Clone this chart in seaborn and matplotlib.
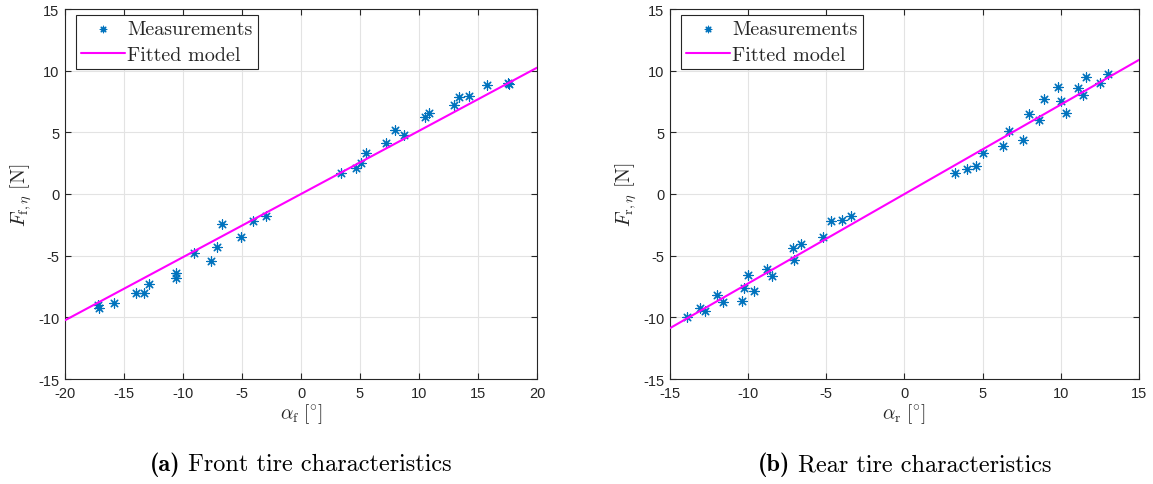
import numpy as np
import pandas as pd
import matplotlib
matplotlib.use("Agg")
import matplotlib.pyplot as plt
import seaborn as sns

# Front tire: slip angle [deg] and lateral force [N]
front_alpha = [-17.2, -17.1, -15.85, -13.98, -13.33, -12.91, -10.6, -10.6, -9.09, -7.63,
               -7.15, -6.69, -5.05, -4.07, -3.0,
               3.36, 4.63, 5.08, 5.53, 7.2, 7.99, 8.73, 10.53, 10.87, 12.94,
               13.36, 14.21, 15.79, 17.54, 17.65]
front_force = [-9.0, -9.25, -8.81, -8.02, -8.02, -7.26, -6.4, -6.8, -4.8, -5.47,
               -4.33, -2.41, -3.52, -2.2, -1.82,
               1.73, 2.11, 2.49, 3.36, 4.15, 5.15, 4.8, 6.28, 6.56, 7.24,
               7.86, 7.94, 8.8, 9.02, 8.89]

# Rear tire: slip angle [deg] and lateral force [N]
rear_alpha = [-13.89, -13.08, -12.74, -12.01, -11.61, -10.41, -10.27, -9.99, -9.6, -8.81,
              -8.49, -7.11, -7.09, -6.6, -5.19, -4.72, -4.0, -3.4,
              3.21, 3.98, 4.56, 5.03, 6.33, 6.67, 7.58, 7.99, 8.61, 8.93,
              9.8, 10.02, 10.32, 11.1, 11.44, 11.64, 12.51, 13.0]
rear_force = [-9.97, -9.21, -9.49, -8.16, -8.75, -8.7, -7.6, -6.56, -7.89, -6.07,
              -6.67, -4.34, -5.39, -4.09, -3.47, -2.2, -2.09, -1.76,
              1.68, 2.03, 2.28, 3.31, 3.93, 5.1, 4.39, 6.48, 5.96, 7.7,
              8.64, 7.56, 6.59, 8.62, 8.05, 9.49, 8.97, 9.76]

# Linear cornering stiffness of the fitted models [N/deg]
front_stiffness = 0.512
rear_stiffness = 0.725

front_xlim = (-20, 20)
rear_xlim = (-15, 15)
ylim = (-15, 15)

sns.set_theme(style="white")
plt.rcParams["mathtext.fontset"] = "cm"
plt.rcParams["axes.unicode_minus"] = False
plt.rcParams["font.family"] = ["Liberation Sans", "DejaVu Sans"]

W, H = 1153, 485
fig = plt.figure(figsize=(W / 100, H / 100), dpi=100)

axis_col = "#262626"
meas_col = "#0072BD"
fit_col = "#FF00FF"


def panel(rect_px, alpha, force, k, xlim, xticks, sub):
    x0, y0, w, h = rect_px
    ax = fig.add_axes([x0 / W, 1 - (y0 + h) / H, w / W, h / H])
    ax.set_xlim(*xlim)
    ax.set_ylim(*ylim)
    ax.set_xticks(xticks)
    ax.set_yticks(np.arange(-15, 16, 5))
    ax.grid(True, color="#e3e3e3", linewidth=0.8)
    ax.set_axisbelow(True)
    for s in ax.spines.values():
        s.set_color(axis_col)
        s.set_linewidth(0.8)
    ax.tick_params(direction="in", length=4, width=0.8, color=axis_col,
                   labelcolor=axis_col, labelsize=10.5, top=True, right=True,
                   bottom=True, left=True)
    ax.tick_params(axis="x", pad=5)
    ax.tick_params(axis="y", pad=4)

    df = pd.DataFrame({"alpha": alpha, "force": force})
    sns.scatterplot(data=df, x="alpha", y="force", marker=(8, 2, 0), s=45,
                    color=meas_col, linewidth=0.85, ax=ax, label="Measurements",
                    zorder=3)
    line_x = np.array(xlim, dtype=float)
    fit = pd.DataFrame({"alpha": line_x, "force": k * line_x})
    sns.lineplot(data=fit, x="alpha", y="force", color=fit_col, linewidth=1.5,
                 ax=ax, label="Fitted model", zorder=4)

    ax.set_xlabel(r"$\alpha_{\mathrm{" + sub + r"}}\ [^{\circ}]$", fontsize=14,
                  color=axis_col, labelpad=1)
    ax.set_ylabel(r"$F_{\mathrm{" + sub + r"},\eta}\ [\mathrm{N}]$", fontsize=14.5,
                  color=axis_col, labelpad=3)

    leg = ax.legend(loc="upper left", bbox_to_anchor=(11 / w, 1 - 6 / h),
                    frameon=True, fancybox=False, edgecolor=axis_col,
                    framealpha=1, borderaxespad=0, handlelength=2.2,
                    handletextpad=0.1, borderpad=0.25, labelspacing=0.38,
                    markerscale=0.7, prop={"family": "cmr10", "size": 14.5})
    leg.get_frame().set_linewidth(0.8)
    return ax


def caption(cx, label, text):
    renderer = fig.canvas.get_renderer()
    bold = fig.text(0, 0.028, "(" + label + ")", family="cmb10", fontsize=17.5,
                    ha="left", va="baseline", color="black")
    rest = fig.text(0, 0.028, " " + text, family="cmr10", fontsize=17.5,
                    ha="left", va="baseline", color="black")
    wb = bold.get_window_extent(renderer).width
    wr = rest.get_window_extent(renderer).width
    start = cx * W - (wb + wr) / 2
    bold.set_x(start / W)
    rest.set_x((start + wb) / W)


top, bottom = 10, 380
front_rect = (65, top, 472, bottom - top)
rear_rect = (670, top, 469, bottom - top)
panel(front_rect, front_alpha, front_force, front_stiffness, front_xlim,
      np.arange(-20, 21, 5), "f")
panel(rear_rect, rear_alpha, rear_force, rear_stiffness, rear_xlim,
      np.arange(-15, 16, 5), "r")

caption((65 + 472 / 2) / W, "a", "Front tire characteristics")
caption((670 + 469 / 2) / W, "b", "Rear tire characteristics")

fig.savefig("out.png", dpi=100)
